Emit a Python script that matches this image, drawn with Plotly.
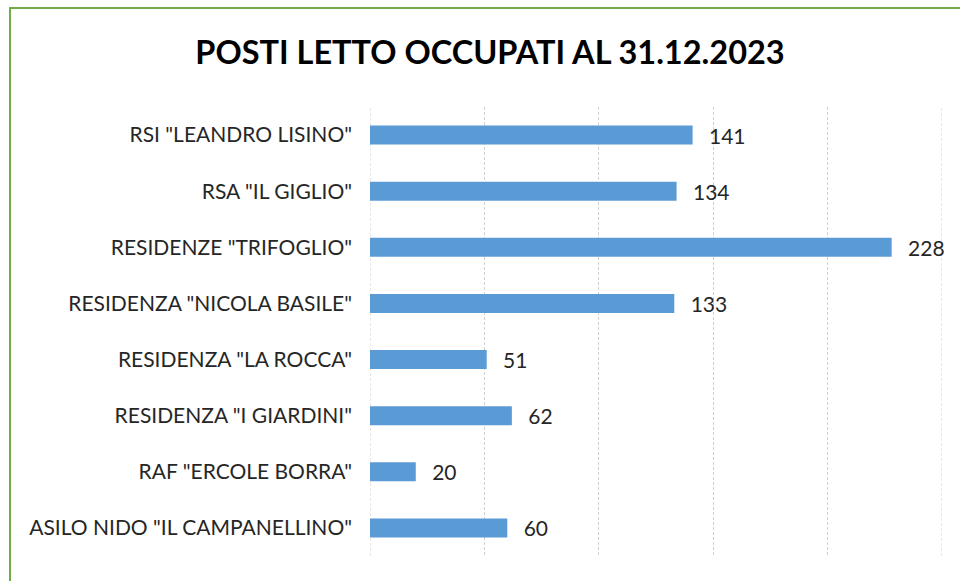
import plotly.graph_objects as go

categories = [
    'RSI "LEANDRO LISINO"',
    'RSA "IL GIGLIO"',
    'RESIDENZE "TRIFOGLIO"',
    'RESIDENZA "NICOLA BASILE"',
    'RESIDENZA "LA ROCCA"',
    'RESIDENZA "I GIARDINI"',
    'RAF "ERCOLE BORRA"',
    'ASILO NIDO "IL CAMPANELLINO"',
]
values = [141, 134, 228, 133, 51, 62, 20, 60]
grid_values = [0, 50, 100, 150, 200, 250]
title_text = "POSTI LETTO OCCUPATI AL 31.12.2023"

FONT = "Lato"
GRID = "#D0D0D0"

fig = go.Figure(
    go.Bar(
        x=values,
        y=categories,
        orientation="h",
        marker=dict(color="#5B9BD5", line=dict(width=0)),
        width=0.34,
        text=values,
        texttemplate="  \u2009%{x}",
        textposition="outside",
        constraintext="none",
        textfont=dict(family=FONT, size=21, color="#262626"),
        cliponaxis=False,
    )
)

edge_lines = [
    dict(
        type="line",
        xref="x",
        yref="paper",
        x0=v,
        x1=v,
        y0=0,
        y1=1,
        line=dict(color=GRID, width=1, dash="3px,2px"),
        layer="below",
    )
    for v in (grid_values[0], grid_values[-1])
]

fig.update_layout(
    width=960,
    height=581,
    paper_bgcolor="white",
    plot_bgcolor="white",
    margin=dict(l=370, r=18, t=107, b=25, autoexpand=False),
    showlegend=False,
    title=dict(
        text="<b>" + title_text + "</b>",
        x=490 / 960,
        xref="container",
        xanchor="center",
        y=1 - 53 / 581,
        yref="container",
        yanchor="middle",
        font=dict(family=FONT, size=32.5, color="#000000"),
    ),
    xaxis=dict(
        range=[0, 250],
        tickvals=grid_values,
        showticklabels=False,
        showgrid=True,
        gridcolor=GRID,
        griddash="3px,2px",
        gridwidth=1,
        zeroline=False,
        showline=False,
        fixedrange=True,
    ),
    yaxis=dict(
        autorange="reversed",
        showgrid=False,
        zeroline=False,
        showline=False,
        ticks="",
        ticklabelstandoff=17,
        tickfont=dict(family=FONT, size=21, color="#262626"),
        fixedrange=True,
    ),
    shapes=[
        dict(
            type="rect",
            xref="paper",
            yref="paper",
            x0=(10 - 370) / 572,
            x1=(1000 - 370) / 572,
            y0=(556 - 620) / 449,
            y1=(556 - 8) / 449,
            line=dict(color="#70AD47", width=2),
            fillcolor="rgba(0,0,0,0)",
            layer="below",
        )
    ]
    + edge_lines,
)

fig.write_html(
    "out.html",
    config={"displayModeBar": False, "staticPlot": True},
    post_script="document.body.style.margin='0';document.body.style.overflow='hidden';",
)
